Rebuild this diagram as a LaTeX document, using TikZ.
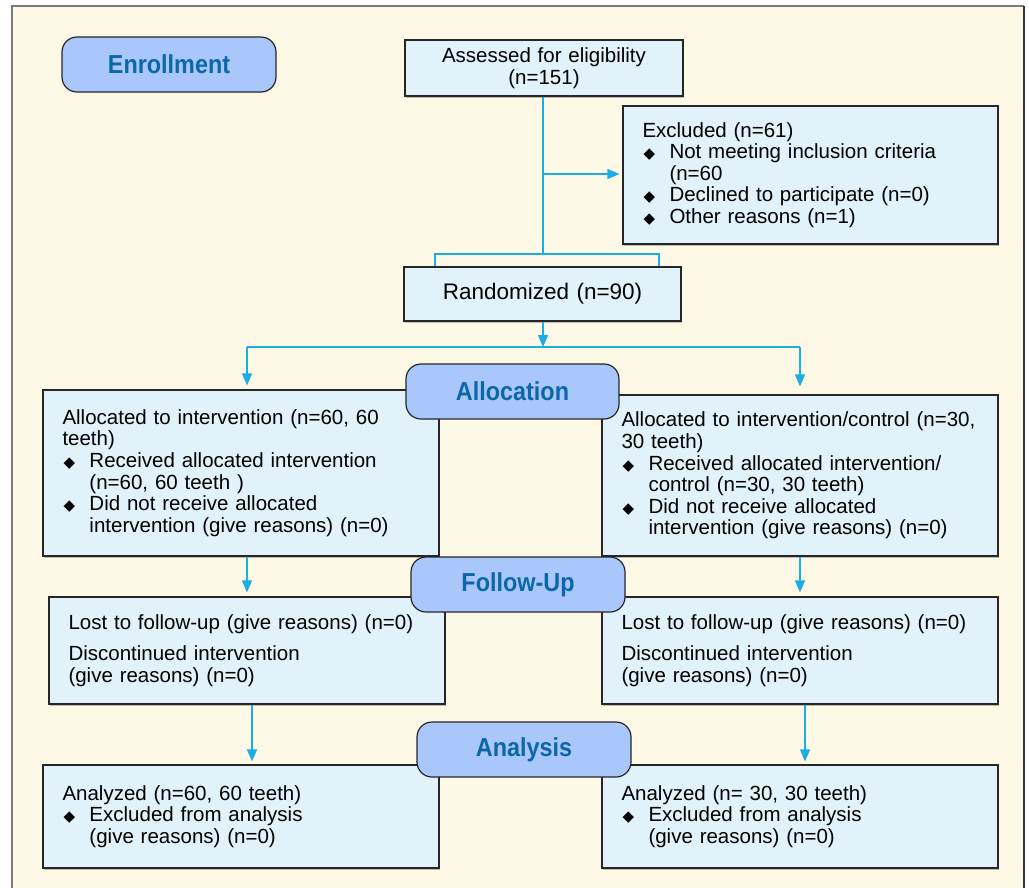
\documentclass[tikz,border=0pt]{standalone}
\usepackage{fontspec}
\setmainfont{Liberation Sans}
\newfontfamily\headfont{Liberation Sans}[FakeStretch=0.9]
\newfontfamily\dejavu{DejaVu Sans}
\usetikzlibrary{arrows.meta,shadows,calc}
\definecolor{cream}{HTML}{FDF9E6}
\definecolor{boxfill}{HTML}{E1F2FA}
\definecolor{headfill}{HTML}{A9C7FB}
\definecolor{headtext}{HTML}{0B67A7}
\definecolor{arrowc}{HTML}{1AADE6}
\definecolor{framec}{HTML}{7A7A7A}
\newcommand{\bl}{\makebox[27pt][l]{\makebox[14pt][c]{\raisebox{0pt}{\dejavu\fontsize{15}{15}\selectfont ◆}}}}
\newcommand{\ind}{\hspace*{27pt}}
\tikzset{
  infobox/.style={draw=black!85, line width=1.2pt, fill=boxfill, rectangle,
    inner xsep=19.5pt, inner ysep=0pt, align=left,
    font=\fontsize{20.5}{21.6}\selectfont,
    drop shadow={shadow xshift=1pt, shadow yshift=-1.5pt, fill=black!50}},
  headbox/.style={draw=black!85, line width=1.2pt, fill=headfill, rectangle,
    rounded corners=15pt, minimum width=214pt, minimum height=55pt, inner sep=0pt,
    text=headtext, font=\headfont\bfseries\fontsize{26}{28}\selectfont},
  arr/.style={draw=arrowc, line width=1.3pt, -{Triangle[length=12pt,width=10pt]}},
  conn/.style={draw=arrowc, line width=1.3pt}
}
\begin{document}
\begin{tikzpicture}[x=1pt,y=-1pt]
\useasboundingbox (0,0) rectangle (1029,887);
\fill[white] (0,0) rectangle (1029,887);
\fill[cream] (12,6) rectangle (1024,892);
\draw[framec, line width=1.5pt] (12,892) -- (12,6) -- (1024,6);
\draw[black!80, line width=1.5pt] (1024,6) -- (1024,892);

% main boxes
\node[infobox, text width=239pt, align=center, minimum height=56pt] (assess) at (544,68)
  {Assessed for eligibility\\(n=151)};
\node[infobox, text width=336pt, minimum height=138pt] (excl) at (810.5,175)
  {Excluded (n=61)\\
   \bl Not meeting inclusion criteria\\
   \ind (n=60\\
   \bl Declined to participate (n=0)\\
   \bl Other reasons (n=1)};
\node[infobox, text width=238pt, align=center, minimum height=54pt,
  font=\fontsize{22.5}{24}\selectfont] (rand) at (542.5,294) {Randomized (n=90)};

\node[infobox, text width=357pt, minimum height=166pt] (la) at (241,473)
  {Allocated to intervention (n=60, 60\\
   teeth)\\
   \bl Received allocated intervention\\
   \ind (n=60, 60 teeth )\\
   \bl Did not receive allocated\\
   \ind intervention (give reasons) (n=0)};
\node[infobox, text width=357pt, minimum height=161pt] (ra) at (800,475.5)
  {Allocated to intervention/control (n=30,\\
   30 teeth)\\
   \bl Received allocated intervention/\\
   \ind control (n=30, 30 teeth)\\
   \bl Did not receive allocated\\
   \ind intervention (give reasons) (n=0)};

\node[infobox, text width=357pt, minimum height=107pt] (lf) at (247,650.5)
  {Lost to follow-up (give reasons) (n=0)\\[10pt]
   Discontinued intervention\\
   (give reasons) (n=0)};
\node[infobox, text width=357pt, minimum height=107pt] (rf) at (800,650.5)
  {Lost to follow-up (give reasons) (n=0)\\[10pt]
   Discontinued intervention\\
   (give reasons) (n=0)};

\node[infobox, text width=357pt, minimum height=103pt] (lan) at (241,816.5)
  {Analyzed (n=60, 60 teeth)\\
   \bl Excluded from analysis\\
   \ind (give reasons) (n=0)};
\node[infobox, text width=357pt, minimum height=103pt] (ran) at (800,816.5)
  {Analyzed (n= 30, 30 teeth)\\
   \bl Excluded from analysis\\
   \ind (give reasons) (n=0)};

% header boxes
\node[headbox] (enroll) at (169,64.5) {Enrollment};
\node[headbox, minimum width=213pt] (alloc) at (512.5,391.5) {Allocation};
\node[headbox] (follow) at (518,584.5) {Follow-Up};
\node[headbox] (analysis) at (524,749.5) {Analysis};

% connectors
\coordinate (bL) at (435,254);
\coordinate (bR) at (659,254);
\coordinate (bM) at (543,254);
\coordinate (ex) at (543,174);
\coordinate (sL) at (247,347);
\coordinate (sR) at (800,347);
\coordinate (sM) at (543,347);
\coordinate (xL2) at (252,0);
\coordinate (xR2) at (805,0);

\draw[conn] (assess.south -| bM) -- (bM);
\draw[conn] (rand.north -| bL) -- (bL) -- (bR) -- (rand.north -| bR);
\draw[arr, shorten >=3pt] (ex) -- (excl.west |- ex);
\draw[arr] (rand.south -| sM) -- (sM);
\draw[conn] (sL) -- (sR);
\draw[arr, shorten >=4pt] (sL) -- (la.north -| sL);
\draw[arr, shorten >=8pt] (sR) -- (ra.north -| sR);
\draw[arr, shorten >=4pt] (la.south -| sL) -- (lf.north -| sL);
\draw[arr, shorten >=4pt] (ra.south -| sR) -- (rf.north -| sR);
\draw[arr, shorten >=3pt] (lf.south -| xL2) -- (lan.north -| xL2);
\draw[arr, shorten >=3pt] (rf.south -| xR2) -- (ran.north -| xR2);
\end{tikzpicture}
\end{document}
